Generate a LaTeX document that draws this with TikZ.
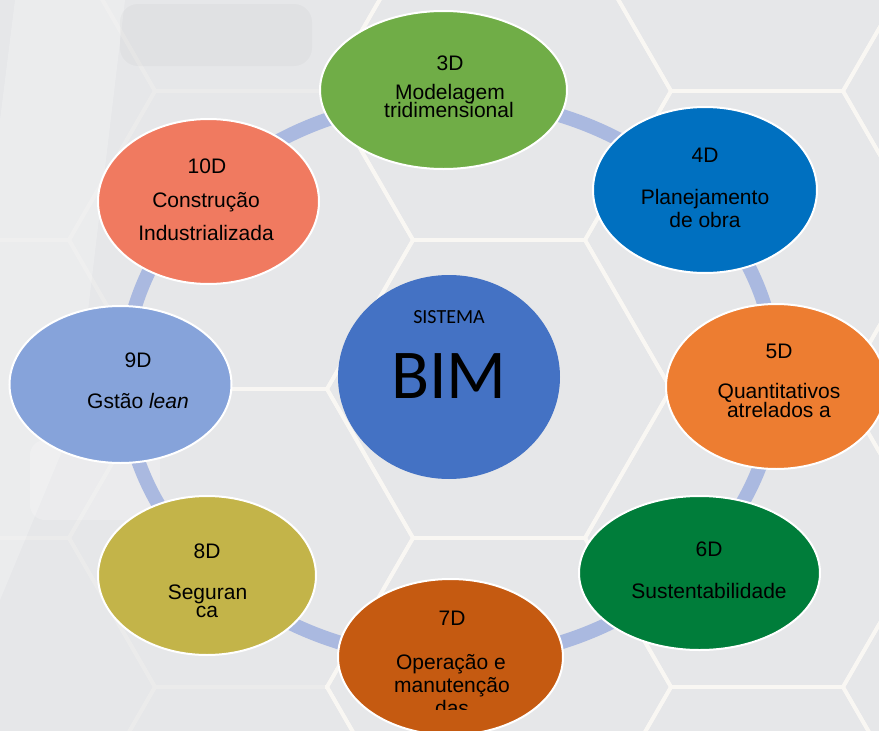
\documentclass[tikz,border=0pt]{standalone}
\usepackage{fontspec}
\setmainfont{Liberation Sans}
\newfontfamily\carlitofont{Carlito}
\usetikzlibrary{shapes.geometric}
\definecolor{bgc}{HTML}{E6E7E9}
\definecolor{ringc}{HTML}{AAB9E0}
\definecolor{hexc}{HTML}{FAF8F4}
\definecolor{cthree}{HTML}{70AD47}
\definecolor{cfour}{HTML}{0070C0}
\definecolor{cfive}{HTML}{ED7D31}
\definecolor{csix}{HTML}{007D3A}
\definecolor{cseven}{HTML}{C55A11}
\definecolor{ceight}{HTML}{C3B449}
\definecolor{cnine}{HTML}{86A3DA}
\definecolor{cten}{HTML}{F07A60}
\definecolor{cbim}{HTML}{4472C4}
\begin{document}
\begin{tikzpicture}[x=1pt,y=-1pt,
  blob/.style={ellipse, draw=white, line width=2pt, inner sep=0pt},
  lbl/.style={anchor=base, inner sep=0pt, text=black, font=\fontsize{21}{21}\selectfont},
  hexline/.style={draw=hexc, line width=3.8pt, opacity=0.9, line join=miter},
  ringline/.style={draw=ringc, line width=14pt}]
\useasboundingbox (0,0) rectangle (879,731);
\clip (0,0) rectangle (879,731);
\fill[bgc] (0,0) rectangle (879,731);
% hexagon background
\foreach \k in {-2,...,2}{
  \foreach \m in {-1,...,2}{
    \pgfmathsetmacro\cx{499+258*\k}
    \pgfmathsetmacro\cy{389+298*\m-149*mod(abs(\k),2)}
    \draw[hexline] (\cx-172,\cy) -- (\cx-86,\cy-149) -- (\cx+86,\cy-149) -- (\cx+172,\cy) -- (\cx+86,\cy+149) -- (\cx-86,\cy+149) -- cycle;
  }}
% faded left part (photo overlay)
\fill[bgc, opacity=0.7] (0,0) rectangle (325,731);
\draw[hexline] (230,389) -- (327,389);
% faint photo-like shapes at left
\fill[white, opacity=0.22] (15,0) -- (125,0) -- (75,420) -- (0,600) -- (0,120) -- cycle;
\fill[black, opacity=0.025, rounded corners=18pt] (120,4) rectangle (312,66);
\fill[white, opacity=0.2, rounded corners=15pt] (30,440) rectangle (160,520);
% ring
\draw[ringline] (450,379) ellipse [x radius=326, y radius=280];
% ellipses
\node[blob, fill=cthree, minimum width=247pt, minimum height=158pt] (e3) at (443.5,90) {};
\node[blob, fill=cfour, minimum width=224pt, minimum height=166pt] (e4) at (705,190) {};
\node[blob, fill=cfive, minimum width=220pt, minimum height=165pt] (e5) at (776,386.5) {};
\node[blob, fill=csix, minimum width=241pt, minimum height=154pt] (e6) at (699.5,573) {};
\node[blob, fill=cseven, minimum width=225pt, minimum height=156pt] (e7) at (450.5,657) {};
\node[blob, fill=ceight, minimum width=218pt, minimum height=159pt] (e8) at (207,575.5) {};
\node[blob, fill=cnine, minimum width=222pt, minimum height=157pt] (e9) at (120.5,384.5) {};
\node[blob, fill=cten, minimum width=221pt, minimum height=165pt] (e10) at (208.5,201.5) {};
\node[ellipse, fill=cbim, inner sep=0pt, minimum width=222pt, minimum height=204pt] (ebim) at (449,377) {};
% texts
\node[lbl] (t3a) at (450,70) {3D};
\node[lbl] (t3b) at (450,99) {Modelagem};
\node[lbl] (t3c) at (449,117) {tridimensional};
\node[lbl] (t4a) at (705,162) {4D};
\node[lbl] (t4b) at (705,204) {Planejamento};
\node[lbl] (t4c) at (705,227) {de obra};
\node[lbl] (t5a) at (779,358) {5D};
\node[lbl] (t5b) at (779,398) {Quantitativos};
\node[lbl] (t5c) at (779,417) {atrelados a};
\node[lbl] (t6a) at (709,556) {6D};
\node[lbl] (t6b) at (709,598) {Sustentabilidade};
\node[lbl] (t7a) at (452,625) {7D};
\node[lbl] (t7b) at (451,669) {Operação e};
\node[lbl] (t7c) at (452,692) {manutenção};
\begin{scope}
\clip (330,600) rectangle (580,709);
\node[lbl] (t7d) at (452,715) {das};
\end{scope}
\node[lbl] (t8a) at (207,558) {8D};
\node[lbl] (t8b) at (207.5,599) {Seguran};
\node[lbl] (t8c) at (207,617) {ca};
\node[lbl] (t9a) at (138,367) {9D};
\node[lbl] (t9b) at (138,408) {Gstão \textit{lean}};
\node[lbl] (t10a) at (207,173) {10D};
\node[lbl] (t10b) at (206,207) {Construção};
\node[lbl] (t10c) at (206,240) {Industrializada};
\node[anchor=base, inner sep=0pt, font=\carlitofont\fontsize{20}{20}\selectfont] (tsis) at (449,323) {SISTEMA};
\node[anchor=base, inner sep=0pt, font=\carlitofont\fontsize{70}{70}\selectfont] (tbim) at (449,398) {BIM};
\end{tikzpicture}
\end{document}
